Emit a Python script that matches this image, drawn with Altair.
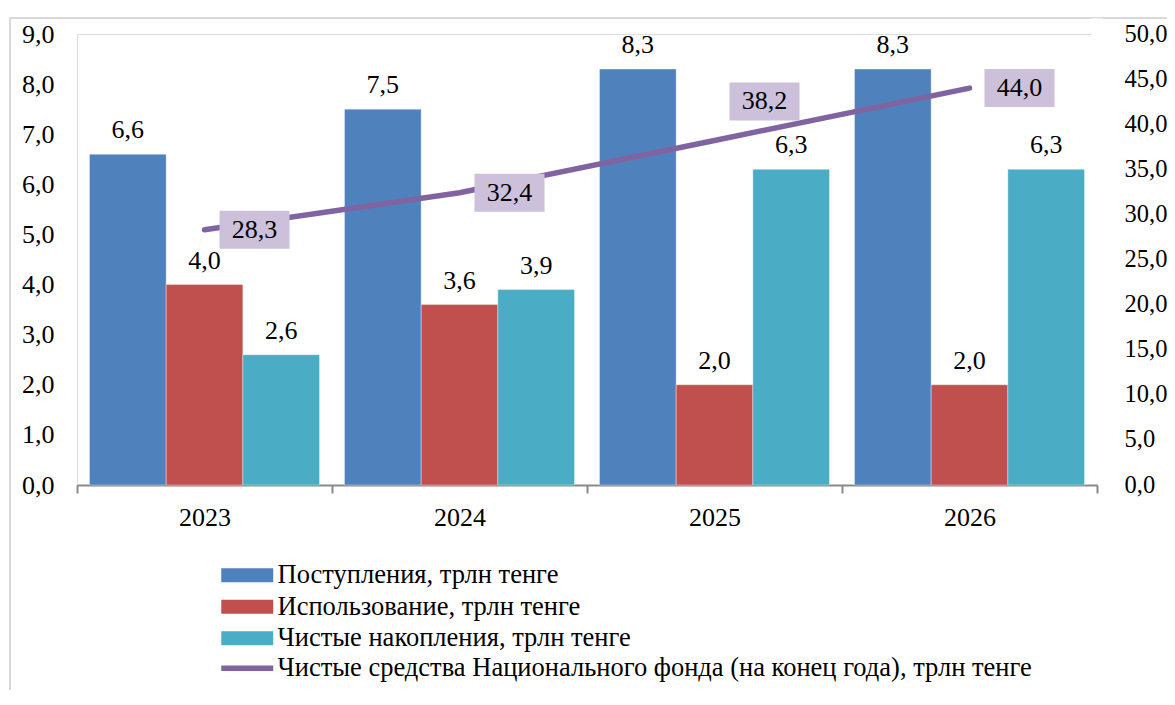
import altair as alt
import pandas as pd

years = ["2023", "2024", "2025", "2026"]
series_names = [
    "Поступления, трлн тенге",
    "Использование, трлн тенге",
    "Чистые накопления, трлн тенге",
]
line_name = "Чистые средства Национального фонда (на конец года), трлн тенге"
postupleniya = [6.6, 7.5, 8.3, 8.3]
ispolzovanie = [4.0, 3.6, 2.0, 2.0]
nakopleniya = [2.6, 3.9, 6.3, 6.3]
sredstva = [28.3, 32.4, 38.2, 44.0]
left_ticks = [0, 1, 2, 3, 4, 5, 6, 7, 8, 9]
right_ticks = [0, 5, 10, 15, 20, 25, 30, 35, 40, 45, 50]

bar_colors = ["#4f81bd", "#c0504d", "#4bacc6"]
line_color = "#8064a2"
box_color = "#ccc0da"
frame_color = "#d9d9d9"
axis_color = "#898989"
FONT = "Liberation Serif"
COMMA = "replace(format(datum.value, '.1f'), '.', ',')"

W, H = 1020, 451
PAD = {"left": 69, "top": 26, "right": 70, "bottom": 205}

rows = []
for s, vals in zip(series_names, [postupleniya, ispolzovanie, nakopleniya]):
    for y, v in zip(years, vals):
        rows.append({"year": y, "series": s, "value": v})
bars_df = pd.DataFrame(rows)
line_df = pd.DataFrame({"year": years, "value": sredstva, "name": [line_name] * len(years)})

x_enc = alt.X(
    "year:N",
    sort=years,
    scale=alt.Scale(paddingInner=0, paddingOuter=0),
    axis=alt.Axis(
        title=None,
        grid=False,
        domain=True,
        domainColor=axis_color,
        domainWidth=2,
        ticks=True,
        tickColor=axis_color,
        tickWidth=2,
        tickSize=8,
        tickBand="extent",
        labelFont=FONT,
        labelFontSize=26,
        labelColor="black",
        labelPadding=11,
        labelAngle=0,
    ),
)
xoff_enc = alt.XOffset(
    "series:N",
    sort=series_names,
    scale=alt.Scale(domain=series_names, paddingInner=0, paddingOuter=0.163),
)
y_left = alt.Y(
    "value:Q",
    scale=alt.Scale(domain=[0, 9], nice=False),
    axis=alt.Axis(
        title=None,
        orient="left",
        values=left_ticks,
        domain=False,
        ticks=False,
        grid=False,
        labelExpr=COMMA,
        labelFont=FONT,
        labelFontSize=26,
        labelColor="black",
        labelPadding=23,
    ),
)
y_right = alt.Y(
    "value:Q",
    scale=alt.Scale(domain=[0, 50], nice=False),
    axis=alt.Axis(
        title=None,
        orient="right",
        values=right_ticks,
        domain=False,
        ticks=False,
        grid=False,
        labelExpr=COMMA,
        labelFont=FONT,
        labelFontSize=24.5,
        labelColor="black",
        labelPadding=27,
    ),
)

legend_common = dict(
    orient="none",
    legendX=157,
    direction="vertical",
    title=None,
    symbolSize=300,
    labelFont=FONT,
    labelFontSize=26.5,
    labelColor="black",
    labelOffset=17,
    labelLimit=1000,
    padding=0,
)

bars = alt.Chart(bars_df).mark_bar(stroke="white", strokeWidth=0.6, strokeOpacity=0.6).encode(
    x=x_enc,
    xOffset=xoff_enc,
    y=y_left,
    fill=alt.Fill(
        "series:N",
        sort=series_names,
        scale=alt.Scale(domain=series_names, range=bar_colors),
        legend=alt.Legend(
            legendY=528,
            symbolType="M-3,-0.8H3V0.8H-3Z",
            symbolStrokeWidth=0,
            symbolOpacity=1,
            rowPadding=4.5,
            **legend_common,
        ),
    ),
)

bar_labels = alt.Chart(bars_df).transform_calculate(label=COMMA).mark_text(
    dy=-16, baseline="alphabetic", font=FONT, fontSize=26, color="black"
).encode(x=x_enc, xOffset=xoff_enc, y=y_left, text="label:N")

line = alt.Chart(line_df).mark_line(strokeWidth=5.5, strokeCap="round").encode(
    x=x_enc,
    y=y_right,
    stroke=alt.Stroke(
        "name:N",
        scale=alt.Scale(domain=[line_name], range=[line_color]),
        legend=alt.Legend(
            legendY=621,
            symbolType="M-3,0H3",
            symbolStrokeWidth=5.5,
            symbolFillColor="transparent",
            **legend_common,
        ),
    ),
)

YOFF = {"expr": "datum.year === '2025' ? -39 : 0"}

boxes = alt.Chart(line_df).mark_point(
    shape="M-1,-0.543H1V0.543H-1Z",
    size=4900,
    filled=True,
    fill=box_color,
    opacity=1,
    strokeWidth=0,
    xOffset=50,
    yOffset=YOFF,
).encode(x=x_enc, y=y_right)

line_labels = alt.Chart(line_df).transform_calculate(label=COMMA).mark_text(
    baseline="middle", font=FONT, fontSize=26, color="black", xOffset=50, yOffset=YOFF
).encode(x=x_enc, y=y_right, text="label:N")

frame_top = alt.Chart(line_df).mark_rect(color=frame_color, opacity=1).encode(
    x=alt.value(-67.75), x2=alt.value(W + PAD["right"]), y=alt.value(-16.75), y2=alt.value(-15.25)
)
frame_left = alt.Chart(line_df).mark_rect(color=frame_color, opacity=1).encode(
    x=alt.value(-67.75), x2=alt.value(-66.25), y=alt.value(-16.75), y2=alt.value(H + PAD["bottom"])
)
# white strip that masks a stray vertical edge line at the plot's right border
edge_mask = alt.Chart(line_df).mark_rect(color="white", opacity=1).encode(
    x=alt.value(W - 6), x2=alt.value(W + 6), y=alt.value(-15.2), y2=alt.value(H - 1.2)
)

left_layer = alt.layer(frame_top, frame_left, bars, bar_labels)
right_layer = alt.layer(line, boxes, line_labels, edge_mask)

chart = (
    alt.layer(left_layer, right_layer)
    .resolve_scale(y="independent")
    .properties(
        width=W,
        height=H,
        autosize=alt.AutoSizeParams(type="none"),
        padding=PAD,
    )
    .configure_view(stroke=None, strokeWidth=0)
    .configure_axisY(domain=False, ticks=False, grid=False)
    .configure(font=FONT)
)

chart.save("out.html", embed_options={"renderer": "svg", "actions": False})
